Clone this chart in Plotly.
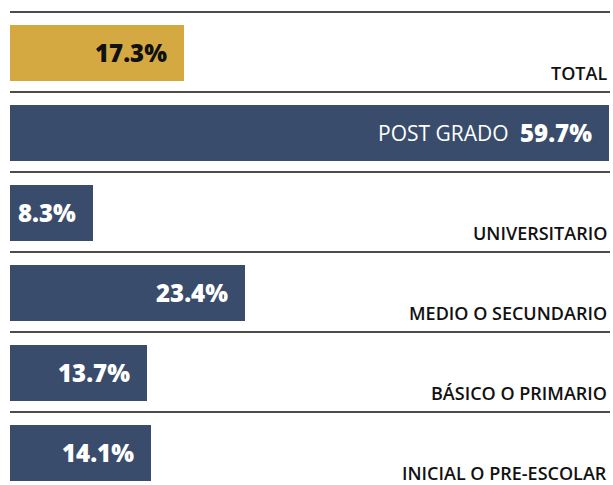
import plotly.graph_objects as go

categories = ["TOTAL", "POST GRADO", "UNIVERSITARIO", "MEDIO O SECUNDARIO",
              "BÁSICO O PRIMARIO", "INICIAL O PRE-ESCOLAR"]
values = [17.3, 59.7, 8.3, 23.4, 13.7, 14.1]
value_labels = ["17.3%", "59.7%", "8.3%", "23.4%", "13.7%", "14.1%"]

GOLD = "#D4A942"
NAVY = "#3A4C6B"
colors = [GOLD] + [NAVY] * 5
text_colors = ["#111111"] + ["#FFFFFF"] * 5

W, H = 613, 485
ML = 10
XMAX = 60.1
FONT = "Open Sans"

ypos = list(range(len(categories)))

fig = go.Figure()
fig.add_trace(go.Bar(
    x=values, y=ypos, orientation="h", width=0.7,
    marker=dict(color=colors, line=dict(width=0)),
    hoverinfo="skip",
))

shapes = []
annotations = []
for i, (cat, v, lab, tc) in enumerate(zip(categories, values, value_labels, text_colors)):
    # separator line above each bar
    shapes.append(dict(type="line", xref="paper", yref="y",
                       x0=0, x1=600 / 603, y0=i - 0.5125, y1=i - 0.5125,
                       line=dict(color="#111111", width=1.6)))
    # value label inside bar end
    annotations.append(dict(x=v, y=i, xref="x", yref="y", text=lab,
                            showarrow=False, xanchor="right", yanchor="middle",
                            xshift=-15, yshift=1,
                            font=dict(family=FONT, size=24, color=tc, weight=800)))
    if cat == "POST GRADO":
        annotations.append(dict(x=v, y=i, xref="x", yref="y", text=cat,
                                showarrow=False, xanchor="right", yanchor="middle",
                                xshift=-98,
                                font=dict(family=FONT, size=21, color="#FFFFFF", weight=400)))
    else:
        annotations.append(dict(x=599 / 603, y=i + 0.35, xref="paper", yref="y", text=cat,
                                showarrow=False, xanchor="right", yanchor="bottom",
                                yshift=-6,
                                font=dict(family=FONT, size=18, color="#111111", weight=600)))

fig.update_layout(
    width=W, height=H,
    margin=dict(l=ML, r=0, t=0, b=0),
    paper_bgcolor="white", plot_bgcolor="white",
    showlegend=False,
    xaxis=dict(range=[0, XMAX], visible=False, fixedrange=True),
    yaxis=dict(range=[5.4, -0.6625], visible=False, fixedrange=True),
    shapes=shapes,
    annotations=annotations,
    bargap=0,
)

fig.write_html("out.html", config={"displayModeBar": False},
               post_script="document.body.style.margin='0';document.body.style.overflow='hidden';")
